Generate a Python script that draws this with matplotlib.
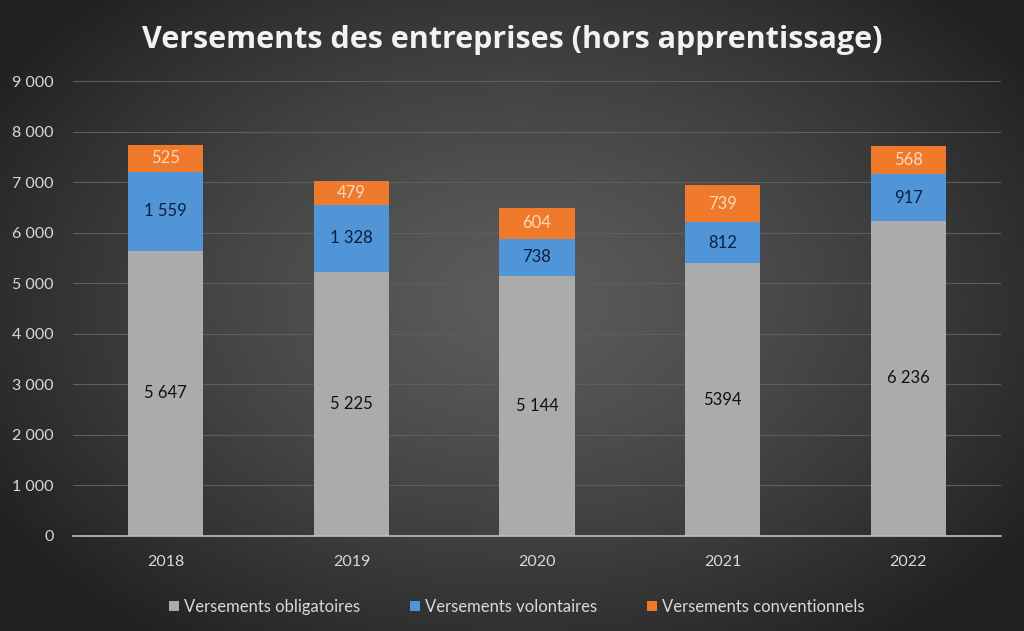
import numpy as np
import matplotlib.pyplot as plt

# Data
years = ["2018", "2019", "2020", "2021", "2022"]
obligatoires = [5647, 5225, 5144, 5394, 6236]
volontaires = [1559, 1328, 738, 812, 917]
conventionnels = [525, 479, 604, 739, 568]
obl_labels = ["5 647", "5 225", "5 144", "5394", "6 236"]
vol_labels = ["1 559", "1 328", "738", "812", "917"]
conv_labels = ["525", "479", "604", "739", "568"]
yticks = [0, 1000, 2000, 3000, 4000, 5000, 6000, 7000, 8000, 9000]

plt.rcParams['font.family'] = ['Lato', 'DejaVu Sans']

fig = plt.figure(figsize=(10.24, 6.31), dpi=100)

# radial gradient background
bg = fig.add_axes([0, 0, 1, 1], zorder=-10)
yy, xx = np.mgrid[0:631, 0:1024]
r = np.sqrt(((xx - 520) / 620.0) ** 2 + ((yy - 300) / 420.0) ** 2)
r = np.clip(r, 0, 1)
shade = 0.36 - 0.23 * r ** 1.3
bg.imshow(np.dstack([shade, shade, shade]), aspect='auto', extent=[0, 1, 0, 1])
bg.axis('off')

ax = fig.add_axes([0.0713, 0.1506, 0.9062, 0.721])
ax.set_facecolor('none')
x = np.arange(len(years))
w = 0.405

b1 = ax.bar(x, obligatoires, w, color='#ababab', zorder=3, label='Versements obligatoires')
b2 = ax.bar(x, volontaires, w, bottom=obligatoires, color='#4f95d8', zorder=3,
            label='Versements volontaires')
bottom3 = [a + b for a, b in zip(obligatoires, volontaires)]
b3 = ax.bar(x, conventionnels, w, bottom=bottom3, color='#f07a2c', zorder=3,
            label='Versements conventionnels')

ax.bar_label(b1, labels=obl_labels, label_type='center', color='#111111', fontsize=12)
ax.bar_label(b2, labels=vol_labels, label_type='center', color='#0e1f3d', fontsize=12)
ax.bar_label(b3, labels=conv_labels, label_type='center', color='#fbd9bf', fontsize=12)

ax.set_xlim(-0.5, len(years) - 0.5)
ax.set_ylim(0, 9000)
ax.set_yticks(yticks)
ax.set_yticklabels([f"{v:,}".replace(",", " ") for v in yticks])
ax.set_xticks(x)
ax.set_xticklabels(years)
ax.tick_params(axis='both', colors='#d9d9d9', labelsize=11.5, length=0)
ax.tick_params(axis='x', pad=14)
ax.tick_params(axis='y', pad=14)
ax.grid(axis='y', color='#5e5e5e', linewidth=0.8, zorder=0)
for s in ['top', 'right', 'left']:
    ax.spines[s].set_visible(False)
ax.spines['bottom'].set_color('#bfbfbf')
ax.spines['bottom'].set_linewidth(1.2)
ax.spines['bottom'].set_zorder(4)

leg = ax.legend(loc='upper center', bbox_to_anchor=(0.478, -0.105), ncol=3, frameon=False,
                fontsize=12, handlelength=0.6, handleheight=0.6, handletextpad=0.3,
                columnspacing=3.0)
for t in leg.get_texts():
    t.set_color('#d9d9d9')

fig.text(0.5, 0.937, "Versements des entreprises (hors apprentissage)", ha='center', va='center',
         fontsize=22, fontweight='bold', color='#f2f2f2', family='Open Sans')

plt.savefig('out.png', dpi=100)
